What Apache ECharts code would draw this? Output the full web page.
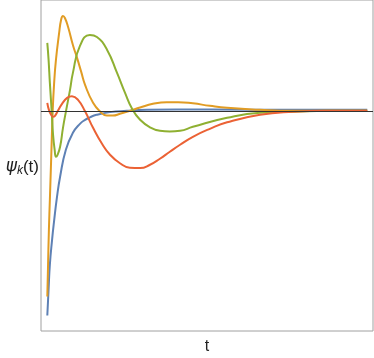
<!DOCTYPE html>
<html>
<head>
<meta charset="utf-8">
<script src="https://cdn.jsdelivr.net/npm/echarts@6/dist/echarts.min.js"></script>
<style>
  html, body { margin: 0; padding: 0; background: #fff; }
  #chart { width: 374px; height: 358px; }
</style>
</head>
<body>
<div id="chart"></div>
<script>
// values (t, psi_k(t))
const blueT = [0, 0.04, 0.08, 0.15, 0.21, 0.3, 0.4, 0.58, 0.8, 1.02, 1.18, 1.33, 1.54, 1.96, 2.48, 3.11, 4.04, 6.33, 10];
const blueY = [-2.05, -1.79, -1.54, -1.29, -1.11, -0.87, -0.66, -0.39, -0.22, -0.13, -0.09, -0.065, -0.04, -0.013, 0, 0.01, 0.014, 0.012, 0.01];

const orangeT = [0, 0.02, 0.05, 0.08, 0.12, 0.17, 0.21, 0.27, 0.37, 0.43, 0.49, 0.55, 0.65, 0.8, 0.93, 1.06, 1.18, 1.43, 1.65, 1.86, 2.05, 2.27, 2.58, 2.9, 3.3, 3.73, 4.09, 4.55, 5.08, 5.62, 6.65, 7.68, 10];
const orangeY = [-1.86, -1.59, -1.19, -0.89, -0.49, 0.01, 0.26, 0.51, 0.78, 0.91, 0.95, 0.93, 0.84, 0.66, 0.53, 0.39, 0.26, 0.08, -0.007, -0.047, -0.047, -0.03, 0, 0.033, 0.07, 0.087, 0.087, 0.075, 0.05, 0.03, 0.01, 0, 0];

const greenT = [0, 0.04, 0.08, 0.14, 0.18, 0.23, 0.27, 0.32, 0.4, 0.49, 0.58, 0.71, 0.8, 1.02, 1.33, 1.55, 1.87, 2.18, 2.43, 2.65, 2.9, 3.21, 3.52, 3.83, 4.15, 4.55, 5.62, 6.65, 7.68, 8.74, 10];
const greenY = [0.68, 0.51, 0.28, -0.02, -0.24, -0.39, -0.46, -0.44, -0.36, -0.17, -0.01, 0.21, 0.38, 0.65, 0.76, 0.74, 0.61, 0.38, 0.18, 0.02, -0.09, -0.165, -0.2, -0.207, -0.2, -0.16, -0.07, -0.02, -0.01, 0, 0];

const redT = [0, 0.05, 0.12, 0.18, 0.24, 0.33, 0.46, 0.62, 0.77, 0.96, 1.18, 1.43, 1.71, 1.96, 2.27, 2.58, 2.9, 3.21, 3.52, 3.83, 4.15, 4.55, 5.08, 5.62, 6.65, 7.68, 8.74, 10];
const redY = [0.08, 0.01, -0.04, -0.06, -0.05, 0, 0.07, 0.13, 0.145, 0.11, -0.005, -0.17, -0.33, -0.44, -0.525, -0.57, -0.573, -0.54, -0.48, -0.41, -0.34, -0.26, -0.18, -0.115, -0.04, -0.01, 0, 0];

const zip = (xs, ys) => xs.map((x, i) => [x, ys[i]]);

// one line series
const curve = (name, color, xs, ys) => ({
  name: name,
  type: 'line',
  data: zip(xs, ys),
  smooth: 0.5,
  showSymbol: false,
  z: 3,
  lineStyle: { color: color, width: 2 }
});

const chart = echarts.init(document.getElementById('chart'), null, { renderer: 'canvas' });

chart.setOption({
  animation: false,
  grid: {
    left: 41, right: 1, top: 0, bottom: 27,
    show: true,
    borderColor: '#a0a0a0',
    borderWidth: 1
  },
  xAxis: {
    type: 'value',
    min: -0.197,
    max: 10.18,
    axisLine: { show: false },
    axisTick: { show: false },
    axisLabel: { show: false },
    splitLine: { show: false }
  },
  yAxis: {
    type: 'value',
    min: -2.205,
    max: 1.11,
    axisLine: { show: false },
    axisTick: { show: false },
    axisLabel: { show: false },
    splitLine: { show: false }
  },
  graphic: [
    {
      type: 'text',
      x: 39, y: 167,
      style: {
        text: '{a|ψ}{b|k}{c|(t)}',
        align: 'right',
        verticalAlign: 'middle',
        rich: {
          a: { fontFamily: 'DejaVu Sans', fontStyle: 'italic', fontSize: 17, fill: '#222' },
          b: { fontFamily: 'Liberation Sans', fontStyle: 'italic', fontSize: 12, fill: '#222', padding: [8, 0, 0, 0] },
          c: { fontFamily: 'Liberation Sans', fontSize: 17, fill: '#222' }
        }
      }
    },
    {
      type: 'text',
      x: 207, y: 347,
      style: {
        text: 't',
        align: 'center',
        verticalAlign: 'middle',
        fontFamily: 'Liberation Sans',
        fontSize: 16,
        fill: '#222'
      }
    }
  ],
  series: [
    {
      type: 'line',
      data: [],
      z: 1,
      markLine: {
        silent: true,
        symbol: 'none',
        label: { show: false },
        lineStyle: { color: '#333', width: 1, type: 'solid' },
        data: [{ yAxis: 0 }]
      }
    },
    curve('blue', '#5E81B5', blueT, blueY),
    curve('orange', '#E19C24', orangeT, orangeY),
    curve('green', '#8FB032', greenT, greenY),
    curve('red', '#EB6235', redT, redY)
  ]
});

window.addEventListener('resize', () => chart.resize());
</script>
</body>
</html>
